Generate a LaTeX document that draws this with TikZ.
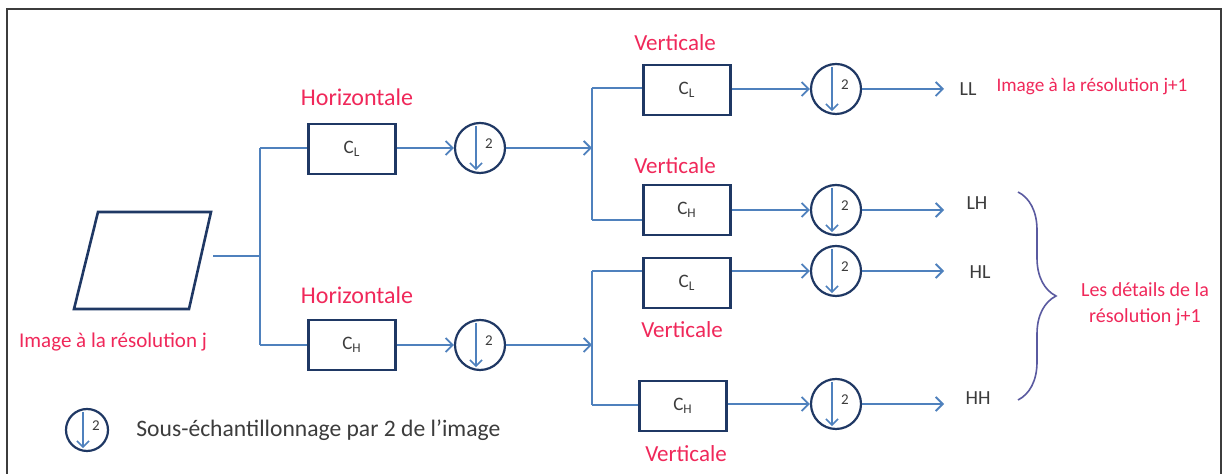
\documentclass[tikz,border=0pt]{standalone}
\usepackage{fontspec}
\setmainfont{Carlito}
\usetikzlibrary{arrows.meta,decorations.pathreplacing,calc}
\definecolor{lblue}{RGB}{79,129,189}
\definecolor{navy}{RGB}{31,56,100}
\definecolor{lred}{RGB}{240,40,90}
\definecolor{dgray}{RGB}{60,60,60}
\definecolor{bracec}{RGB}{90,90,160}
\begin{document}
\begin{tikzpicture}[x=0.5pt,y=-0.5pt,
 conn/.style={draw=lblue,line width=0.9pt},
 arr/.style={conn,-{Straight Barb[length=3.5pt,width=7pt]}},
 fbox/.style={draw=navy,line width=1.1pt,minimum width=43.5pt,minimum height=25pt,inner sep=0pt,font=\fontsize{9.5}{10}\selectfont,text=dgray},
 dcirc/.style={circle,draw=navy,line width=1.1pt,minimum size=25pt,inner sep=0pt},
 rlabel/.style={text=lred,font=\fontsize{11.5}{13}\selectfont,inner sep=0pt},
 olabel/.style={text=dgray,font=\fontsize{10}{11}\selectfont,inner sep=0pt}]
\useasboundingbox (0,0) rectangle (1227,474);
\fill[white] (0,0) rectangle (1227,474);
% frame
\draw[dgray,line width=0.8pt] (7,480) -- (7,9) -- (1221,9) -- (1221,480);
% source image
\draw[navy,line width=1.3pt] (98,212) -- (211,212) -- (189,309) -- (74,309) -- cycle;
\coordinate (src) at (213,256);
\node[rlabel,font=\fontsize{10.5}{12}\selectfont] (srclbl) at (113,342) {Image à la résolution j};
% first trunk
\coordinate (j1) at (260,256);
\coordinate (t1) at (260,148);
\coordinate (b1) at (260,345);
\draw[conn] (src) -- (j1);
\draw[conn] (t1) -- (b1);
% horizontal filters
\node[fbox] (h1) at (352,149) {C\textsubscript{L}};
\node[fbox] (h2) at (352,345) {C\textsubscript{H}};
\node[rlabel,font=\fontsize{12}{14}\selectfont] (hl1) at (357,97) {Horizontale};
\node[rlabel,font=\fontsize{12}{14}\selectfont] (hl2) at (357,295) {Horizontale};
\draw[conn] (t1) -- (t1 -| h1.west);
\draw[conn] (b1) -- (b1 -| h2.west);
\node[dcirc] (c1) at (480,148) {};
\node[dcirc] (c2) at (480,345) {};
\draw[arr] (h1.east |- c1) -- (c1);
\draw[arr] (h2.east |- c2) -- (c2);
% second trunks
\coordinate (a1) at (592,148);
\coordinate (a2) at (592,345);
\draw[arr] (c1) -- (a1);
\draw[arr] (c2) -- (a2);
\coordinate (k1) at (592,88);
\coordinate (k2) at (592,220);
\coordinate (k3) at (592,271);
\coordinate (k4) at (592,405);
\draw[conn] (k1) -- (k2);
\draw[conn] (k3) -- (k4);
% vertical filters
\node[fbox] (v1) at (687,90) {C\textsubscript{L}};
\node[fbox] (v2) at (687,210) {C\textsubscript{H}};
\node[fbox] (v3) at (687,283) {C\textsubscript{L}};
\node[fbox] (v4) at (683,406) {C\textsubscript{H}};
\node[rlabel] (vl1) at (675,43) {Verticale};
\node[rlabel] (vl2) at (675,166) {Verticale};
\node[rlabel] (vl3) at (682,330) {Verticale};
\node[rlabel] (vl4) at (686,454) {Verticale};
\draw[conn] (k1) -- (k1 -| v1.west);
\draw[conn] (k2) -- (k2 -| v2.west);
\draw[conn] (k3) -- (k3 -| v3.west);
\draw[conn] (k4) -- (k4 -| v4.west);
\node[dcirc] (d1) at (836,89) {};
\node[dcirc] (d2) at (836,210) {};
\node[dcirc] (d3) at (836,271) {};
\node[dcirc] (d4) at (836,404) {};
\draw[arr] (d1 -| v1.east) -- (d1);
\draw[arr] (d2 -| v2.east) -- (d2);
\draw[arr] (d3 -| v3.east) -- (d3);
\draw[arr] (d4 -| v4.east) -- (d4);
% outputs
\coordinate (o1) at (944,89);
\coordinate (o2) at (944,210);
\coordinate (o3) at (944,271);
\coordinate (o4) at (944,404);
\draw[arr] (d1) -- (o1);
\draw[arr] (d2) -- (o2);
\draw[arr] (d3) -- (o3);
\draw[arr] (d4) -- (o4);
\node[olabel] (ll) at (968,89) {LL};
\node[olabel] (lh) at (977,203) {LH};
\node[olabel] (hl) at (980,272) {HL};
\node[olabel] (hh) at (978,398) {HH};
\node[rlabel,font=\fontsize{9.6}{11}\selectfont] (res1) at (1092,86) {Image à la résolution j+1};
% brace
\draw[bracec,line width=0.8pt,decorate,decoration={brace,amplitude=19pt}] (1018,192) -- (1018,400);
\node[rlabel,font=\fontsize{10}{13}\selectfont,align=center] (det) at (1145,304) {Les détails de la\\résolution j+1};
% legend
\node[dcirc,minimum size=21pt] (leg) at (87,430) {};
\node[anchor=west,text=dgray,font=\fontsize{11.8}{13}\selectfont,inner sep=0pt] (legtxt) at (136,430) {Sous-échantillonnage par 2 de l’image};
% down-sampling symbols
\foreach \c in {c1,c2,d1,d2,d3,d4,leg}{
  \draw[lblue,line width=0.8pt,-{Straight Barb[length=3pt,width=6pt]}] ([xshift=-2pt,yshift=-2pt]\c.north) -- ([xshift=-2pt,yshift=2pt]\c.south);
  \node[text=dgray,font=\fontsize{7.5}{8}\selectfont,inner sep=0pt] (\c-two) at ([xshift=4.5pt,yshift=2pt]\c.center) {2};
}
\end{tikzpicture}
\end{document}
